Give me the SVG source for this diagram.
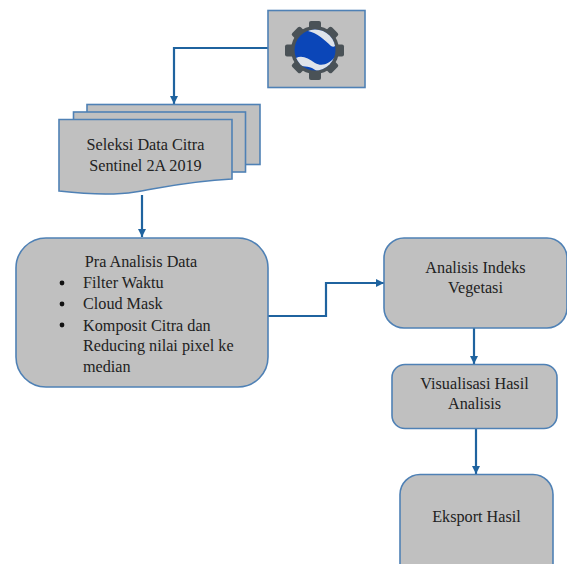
<svg xmlns="http://www.w3.org/2000/svg" width="567" height="564" viewBox="0 0 567 564">
<style>
.n{fill:#c0c0c0;stroke:#4f81b5;stroke-width:1.6}
.c{fill:none;stroke:#1f639f;stroke-width:2.2}
text{font-family:"Liberation Serif","Times New Roman",serif;font-size:16.2px;fill:#222}
.m{text-anchor:middle}
</style>
<defs>
<marker id="a" markerUnits="userSpaceOnUse" markerWidth="9" markerHeight="8" refX="8" refY="4" orient="auto"><path d="M0 0L8 4L0 8Z" fill="#1f639f"/></marker>
<clipPath id="g"><circle cx="315" cy="50" r="20.500"/></clipPath>
</defs>
<rect width="567" height="564" fill="#fff"/>
<g id="connectors">
<path class="c" d="M268 48H174V104" marker-end="url(#a)"/>
<path class="c" d="M142 195V237" marker-end="url(#a)"/>
<path class="c" d="M268 316H326V283H384" marker-end="url(#a)"/>
<path class="c" d="M474 328V364" marker-end="url(#a)"/>
<path class="c" d="M476 429V474" marker-end="url(#a)"/>
</g>
<g id="node-gee">
<rect class="n" x="268" y="10.500" width="97" height="77"/>
<g fill="#4a5257">
<circle cx="315" cy="50" r="24"/>
<rect x="309" y="21" width="12" height="59" rx="2"/>
<rect x="285" y="44.500" width="59" height="12" rx="2"/>
<rect x="309" y="22" width="12" height="56" rx="2" transform="rotate(45 315 50)"/>
<rect x="309" y="22" width="12" height="56" rx="2" transform="rotate(-45 315 50)"/>
</g>
<circle cx="315" cy="50" r="20.500" fill="#0b46b8"/>
<g clip-path="url(#g)" fill="#dfe3ea">
<path d="M308 31C317 33 325 40 331 46C334 48 336 46 336 42L326 30L312 28Z"/>
<path d="M296 58C302 55 308 58 315 63C322 67 329 64 336 56L334 68L320 73L312 68C306 66 300 66 297 66Z"/>
</g>
</g>
<g id="node-seleksi">
<rect class="n" x="87" y="104.500" width="173" height="60"/>
<rect class="n" x="73.500" y="112" width="172" height="60"/>
<path class="n" d="M59 119.500H232V179C190 181 165 187 135 192C110 196 85 194 59 191Z"/>
<text class="m" x="145.500" y="150">Seleksi Data Citra</text>
<text class="m" x="145.500" y="171">Sentinel 2A 2019</text>
</g>
<g id="node-pra">
<rect class="n" x="16" y="238" width="252" height="149" rx="30"/>
<text class="m" x="141" y="267">Pra Analisis Data</text>
<circle cx="62" cy="283" r="2.400" fill="#111"/>
<circle cx="62" cy="304" r="2.400" fill="#111"/>
<circle cx="62" cy="325" r="2.400" fill="#111"/>
<text x="83" y="288">Filter Waktu</text>
<text x="83" y="309">Cloud Mask</text>
<text x="83" y="331">Komposit Citra dan</text>
<text x="83" y="351">Reducing nilai pixel ke</text>
<text x="83" y="372">median</text>
</g>
<g id="node-indeks">
<rect class="n" x="384" y="238" width="183" height="90" rx="20"/>
<text class="m" x="475.500" y="273">Analisis Indeks</text>
<text class="m" x="475.500" y="293">Vegetasi</text>
</g>
<g id="node-visual">
<rect class="n" x="392" y="364.500" width="165" height="64" rx="13"/>
<text class="m" x="474.500" y="389">Visualisasi Hasil</text>
<text class="m" x="474.500" y="409">Analisis</text>
</g>
<g id="node-eksport">
<rect class="n" x="400" y="474.500" width="153" height="110" rx="20"/>
<text class="m" x="476.500" y="522">Eksport Hasil</text>
</g>
</svg>
